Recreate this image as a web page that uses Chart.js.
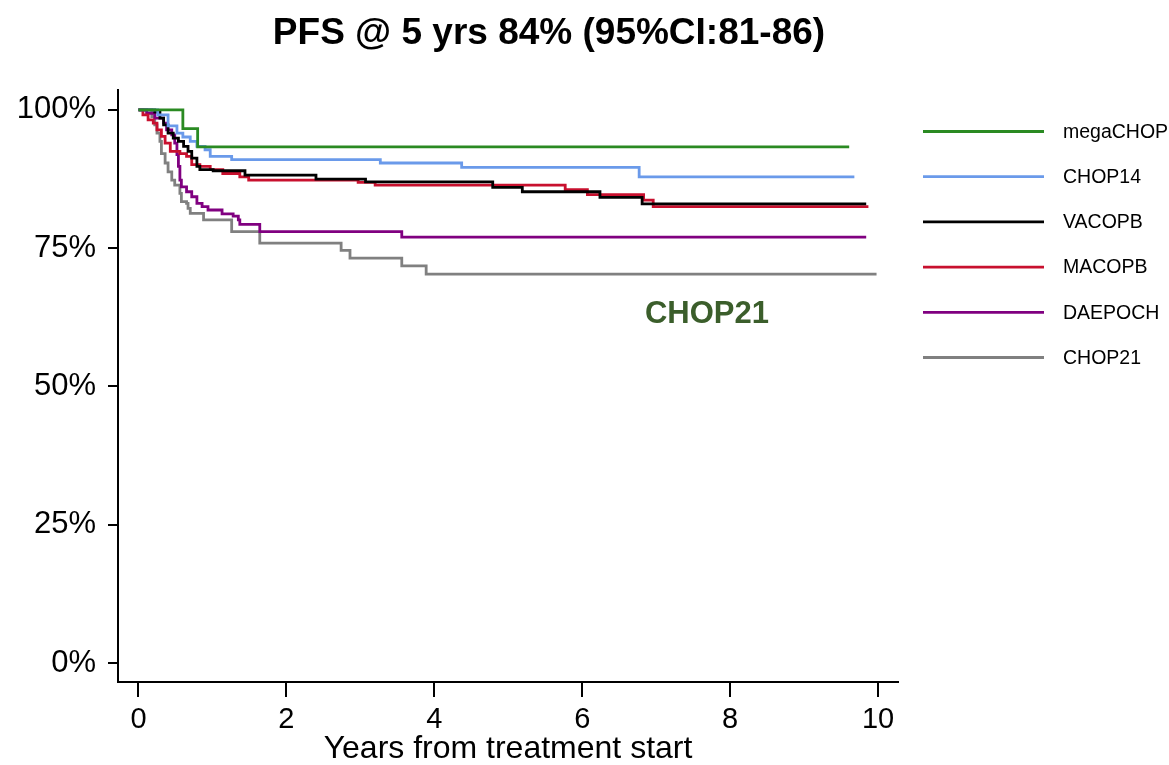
<!DOCTYPE html>
<html>
<head>
<meta charset="utf-8">
<script src="https://cdn.jsdelivr.net/npm/chart.js@4/dist/chart.umd.min.js"></script>
<style>
  html, body { margin: 0; padding: 0; background: #fff; }
  #wrap { width: 1169px; height: 765px; }
</style>
</head>
<body>
<div id="wrap"><canvas id="km"></canvas></div>
<script>
// 軸の目盛り
const xTicks = [0, 2, 4, 6, 8, 10];
const yTicks = [0, 25, 50, 75, 100];

// 各レジメンの生存曲線 (年, %)
const megaChopT = [0, 0.60, 0.80, 9.61];
const megaChopS = [100, 96.6, 93.3, 93.3];

const chop14T = [0, 0.26, 0.40, 0.52, 0.60, 0.70, 0.79, 0.90, 0.97, 1.26, 3.27, 4.37, 6.77, 9.68];
const chop14S = [100, 99.1, 97.1, 95.8, 95.1, 94.3, 93.4, 92.8, 91.6, 91.0, 90.4, 89.6, 87.9, 87.9];

const vacopbT = [0, 0.22, 0.29, 0.34, 0.40, 0.47, 0.54, 0.61, 0.67, 0.72, 0.79, 0.83, 1.01, 1.44, 2.40, 3.07, 4.79, 5.19, 6.24, 6.81, 9.84];
const vacopbS = [100, 99.6, 98.5, 97.3, 95.8, 94.9, 94.3, 93.4, 92.5, 91.3, 89.8, 89.2, 89.0, 88.2, 87.5, 87.0, 86.0, 85.2, 84.2, 83.0, 83.0];

const macopbT = [0, 0.06, 0.13, 0.20, 0.25, 0.31, 0.36, 0.43, 0.56, 0.65, 0.72, 0.83, 0.97, 1.14, 1.37, 1.49, 2.97, 3.20, 5.77, 6.07, 6.83, 6.96, 9.87];
const macopbS = [100, 99.1, 98.2, 97.6, 96.4, 95.2, 94.0, 92.5, 92.1, 91.6, 90.1, 89.8, 89.2, 88.5, 87.9, 87.3, 86.9, 86.4, 85.6, 84.7, 83.7, 82.5, 82.5];

const daepochT = [0, 0.11, 0.22, 0.34, 0.38, 0.45, 0.49, 0.52, 0.54, 0.56, 0.58, 0.65, 0.72, 0.79, 0.86, 0.94, 1.13, 1.28, 1.35, 1.37, 1.64, 3.56, 9.84];
const daepochS = [100, 99.4, 98.5, 97.6, 96.4, 95.5, 94.0, 91.9, 89.8, 87.3, 86.1, 85.2, 84.3, 83.1, 82.5, 81.9, 81.2, 80.8, 80.1, 79.3, 78.0, 77.0, 77.0];

const chop21T = [0, 0.18, 0.22, 0.25, 0.29, 0.31, 0.36, 0.40, 0.45, 0.49, 0.56, 0.58, 0.65, 0.67, 0.70, 0.88, 1.26, 1.64, 2.74, 2.86, 3.56, 3.89, 9.98];
const chop21S = [100, 98.8, 97.3, 95.8, 94.3, 92.1, 90.4, 88.8, 87.3, 86.4, 84.9, 83.4, 83.1, 82.2, 81.3, 80.1, 78.0, 75.9, 74.6, 73.2, 71.8, 70.3, 70.3];

const seriesNames = ['megaCHOP', 'CHOP14', 'VACOPB', 'MACOPB', 'DAEPOCH', 'CHOP21'];
const seriesColors = ['#2a8a22', '#6a9aea', '#000000', '#c8102e', '#800080', '#808080'];
const seriesT = [megaChopT, chop14T, vacopbT, macopbT, daepochT, chop21T];
const seriesS = [megaChopS, chop14S, vacopbS, macopbS, daepochS, chop21S];

function toPoints(t, s) {
  return t.map(function (v, i) { return { x: v, y: s[i] }; });
}

const datasets = seriesNames.map(function (name, i) {
  return {
    label: name,
    data: toPoints(seriesT[i], seriesS[i]),
    borderColor: seriesColors[i],
    borderWidth: 2.8,
    stepped: 'before',
    pointRadius: 0,
    fill: false,
  };
});

const FONT = "'Liberation Sans', Arial, sans-serif";

// タイトル・凡例・注記を描く
const extras = {
  id: 'extras',
  afterDraw(chart) {
    const c = chart.ctx;
    c.save();
    c.fillStyle = '#000';
    c.textAlign = 'center';
    c.textBaseline = 'middle';
    c.font = 'bold 37px ' + FONT;
    c.fillText('PFS @ 5 yrs 84% (95%CI:81-86)', 549, 34);

    c.font = 'bold 31px ' + FONT;
    c.fillStyle = '#3b5e2b';
    c.fillText('CHOP21', 707, 314);

    c.textAlign = 'left';
    c.font = '19.5px ' + FONT;
    chart.data.datasets.forEach(function (ds, i) {
      const y = 131.5 + i * 45.2;
      c.strokeStyle = ds.borderColor;
      c.lineWidth = 2.8;
      c.beginPath();
      c.moveTo(923, y);
      c.lineTo(1044, y);
      c.stroke();
      c.fillStyle = '#000';
      c.fillText(ds.label, 1063, y + 1);
    });
    c.restore();
  },
};

const ctx = document.getElementById('km');
const chart = new Chart(ctx, {
  type: 'line',
  data: { datasets: datasets },
  options: {
    responsive: true,
    maintainAspectRatio: false,
    animation: false,
    layout: { padding: { top: 90, right: 271, bottom: 0, left: 0 } },
    plugins: {
      legend: { display: false },
      title: { display: false },
      tooltip: { enabled: false },
    },
    scales: {
      x: {
        type: 'linear',
        min: -0.277,
        max: 10.27,
        afterBuildTicks(scale) {
          scale.ticks = xTicks.map(function (v) { return { value: v }; });
        },
        afterFit(scale) { scale.height = 83; },
        border: { display: true, color: '#000', width: 2 },
        grid: { display: true, drawOnChartArea: false, drawTicks: true, tickLength: 15, tickColor: '#000', lineWidth: 2 },
        ticks: { color: '#000', font: { family: FONT, size: 29 }, padding: 6, maxRotation: 0 },
        title: { display: true, text: 'Years from treatment start', color: '#000', font: { family: FONT, size: 32, lineHeight: 1 }, padding: 0 },
      },
      y: {
        min: -3.44,
        max: 103.6,
        afterBuildTicks(scale) {
          scale.ticks = yTicks.map(function (v) { return { value: v }; });
        },
        afterFit(scale) { scale.width = 118; },
        border: { display: true, color: '#000', width: 2 },
        grid: { display: true, drawOnChartArea: false, drawTicks: true, tickLength: 10, tickColor: '#000', lineWidth: 2 },
        ticks: {
          color: '#000',
          font: { family: FONT, size: 31 },
          padding: 12,
          callback: function (v) { return v + '%'; },
        },
      },
    },
  },
  plugins: [extras],
});
</script>
</body>
</html>
